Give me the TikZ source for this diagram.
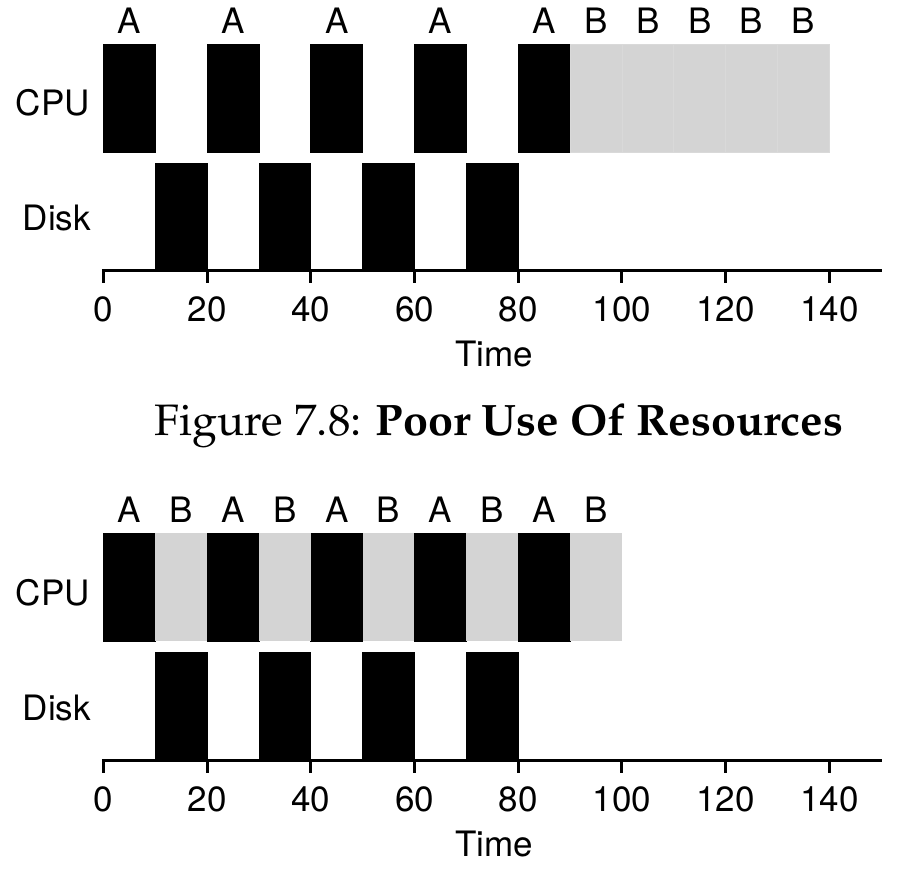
\documentclass[tikz,border=0pt]{standalone}
\usepackage[T1]{fontenc}
\usepackage{fontspec}
\newfontfamily\lab{TeX Gyre Heros}
\newcommand{\capfont}{\fontencoding{T1}\fontfamily{ppl}\fontsize{44}{50}\selectfont}
\tikzset{
  lbl/.style={font=\lab\fontsize{35}{40}\selectfont, inner sep=0pt, anchor=center},
  abar/.style={fill=black, draw=black, line width=0.6pt},
  bbar/.style={fill=black!17, draw=black!15, line width=0.6pt},
  axisline/.style={line width=3pt},
  tickline/.style={line width=3pt},
}
\begin{document}
\begin{tikzpicture}[x=1pt,y=-1pt]
\useasboundingbox (0,0) rectangle (909,868);
% helper: t -> 103.3 + 5.186 t
\def\X#1{\fpeval{103.3+5.186*(#1)}}
% ---------- Top chart ----------
\foreach \t in {0,20,40,60,80}{
  \fill[abar] (\X{\t},44) rectangle (\X{\t+10},152);
  \node[lbl] (ta\t) at (\X{\t+5},21) {A};
}
\foreach \t in {90,100,110,120,130}{
  \fill[bbar] (\X{\t},44) rectangle (\X{\t+10},152);
  \draw[bbar] (\X{\t},44) rectangle (\X{\t+10},152);
  \node[lbl] (tb\t) at (\X{\t+5},21) {B};
}
\foreach \t in {10,30,50,70}{
  \fill[abar] (\X{\t},163) rectangle (\X{\t+10},270);
}
\node[lbl, anchor=east] (tcpu) at (90,103) {CPU};
\node[lbl, anchor=east] (tdisk) at (91,218) {Disk};
\draw[axisline] (\X{0}-1.5,270.5) -- (\X{150}+1,270.5);
\foreach \t in {0,20,...,140}{
  \draw[tickline] (\X{\t},270.5) -- (\X{\t},283);
  \node[lbl] (tt\t) at (\X{\t},309) {\t};
}
\node[lbl] (ttime) at (494,354) {Time};
% ---------- Caption ----------
\node[inner sep=0pt, anchor=base] (cap) at (499,435) {\scalebox{1.02}[1]{\capfont Figure 7.8: \textbf{Poor Use Of Resources}}};
% ---------- Bottom chart ----------
\foreach \t in {0,20,40,60,80}{
  \fill[abar] (\X{\t},533) rectangle (\X{\t+10},641);
  \node[lbl] (ba\t) at (\X{\t+5},510) {A};
}
\foreach \t in {10,30,50,70,90}{
  \fill[black!17] (\X{\t},533) rectangle (\X{\t+10},641);
  \node[lbl] (bb\t) at (\X{\t+5},510) {B};
}
\foreach \t in {10,30,50,70}{
  \fill[abar] (\X{\t},652) rectangle (\X{\t+10},759);
}
\node[lbl, anchor=east] (bcpu) at (90,593) {CPU};
\node[lbl, anchor=east] (bdisk) at (91,708) {Disk};
\draw[axisline] (\X{0}-1.5,760.5) -- (\X{150}+1,760.5);
\foreach \t in {0,20,...,140}{
  \draw[tickline] (\X{\t},760.5) -- (\X{\t},773);
  \node[lbl] (bt\t) at (\X{\t},799) {\t};
}
\node[lbl] (btime) at (494,844) {Time};
\end{tikzpicture}
\end{document}
